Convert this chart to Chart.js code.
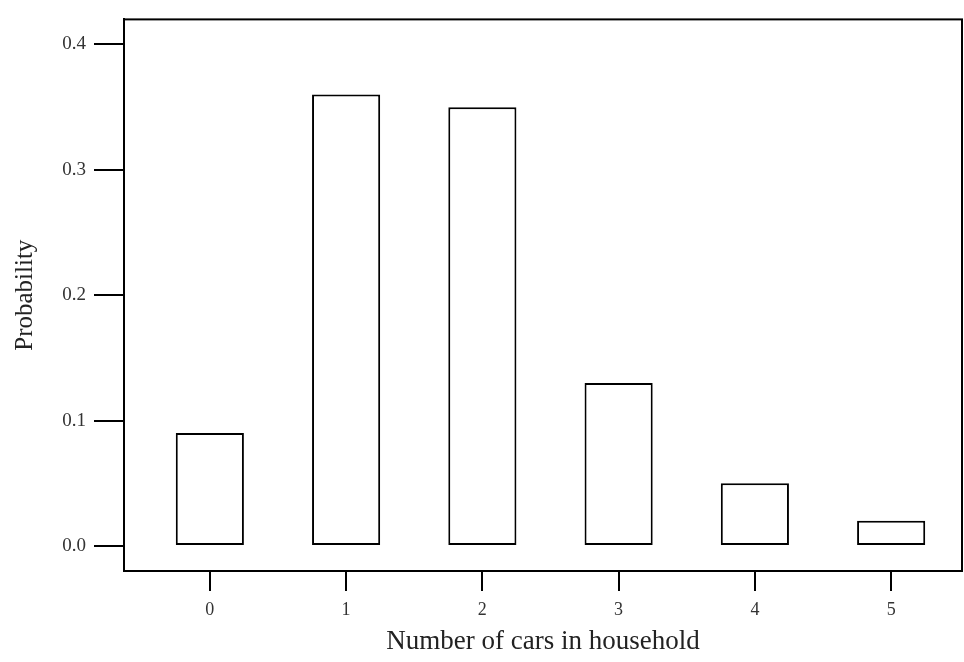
<!DOCTYPE html>
<html>
<head>
<meta charset="utf-8">
<script src="https://cdn.jsdelivr.net/npm/chart.js@4.4.1/dist/chart.umd.min.js"></script>
<style>
  html, body { margin: 0; padding: 0; background: #ffffff; }
  #wrap { width: 964px; height: 662px; position: relative; }
</style>
</head>
<body>
<div id="wrap"><canvas id="c"></canvas></div>
<script>
const categories = [0, 1, 2, 3, 4, 5];
const probabilities = [0.09, 0.36, 0.35, 0.13, 0.05, 0.02];
const yTickValues = [0.0, 0.1, 0.2, 0.3, 0.4];
const xTitle = 'Number of cars in household';
const yTitle = 'Probability';

const boxPlugin = {
  id: 'box',
  afterDraw(chart) {
    const a = chart.chartArea, ctx = chart.ctx;
    ctx.save();
    ctx.strokeStyle = '#000';
    ctx.lineWidth = 2;
    ctx.strokeRect(a.left, a.top, a.right - a.left, a.bottom - a.top);
    ctx.restore();
  }
};

const serif = "'Liberation Serif', 'DejaVu Serif', serif";

new Chart(document.getElementById('c'), {
  type: 'bar',
  data: {
    datasets: [{
      data: categories.map((c, i) => ({ x: c, y: probabilities[i] })),
      backgroundColor: '#ffffff',
      borderColor: '#000000',
      borderWidth: 2,
      borderSkipped: false,
      categoryPercentage: 1.0,
      barPercentage: 0.5
    }]
  },
  options: {
    responsive: true,
    maintainAspectRatio: false,
    animation: false,
    layout: { padding: { top: 14, right: 2, left: 0, bottom: 0 } },
    plugins: { legend: { display: false }, tooltip: { enabled: false } },
    scales: {
      x: {
        type: 'linear',
        offset: false,
        min: -0.63,
        max: 5.52,
        afterBuildTicks: s => { s.ticks = categories.map(v => ({ value: v })); },
        afterFit: s => { s.height = 91; },
        grid: { offset: false, drawOnChartArea: false, drawTicks: true, tickLength: 20, color: '#000', lineWidth: 2 },
        border: { display: true, color: '#000', width: 2 },
        ticks: {
          color: '#333',
          font: { family: serif, size: 18 },
          padding: 8,
          maxRotation: 0,
          callback: v => String(v)
        },
        title: {
          display: true,
          text: xTitle,
          color: '#222',
          font: { family: serif, size: 27 },
          padding: { top: 2, bottom: 4 }
        }
      },
      y: {
        type: 'linear',
        min: -0.02,
        max: 0.42,
        afterBuildTicks: s => { s.ticks = yTickValues.map(v => ({ value: v })); },
        afterFit: s => { s.width = 124; },
        grid: { drawOnChartArea: false, drawTicks: true, tickLength: 30, color: '#000', lineWidth: 2 },
        border: { display: true, color: '#000', width: 2 },
        ticks: {
          color: '#333',
          font: { family: serif, size: 19 },
          padding: 8,
          callback: v => v.toFixed(1)
        },
        title: {
          display: true,
          text: yTitle,
          color: '#222',
          font: { family: serif, size: 25 },
          padding: { top: 10, bottom: 4 }
        }
      }
    }
  },
  plugins: [boxPlugin]
});
</script>
</body>
</html>
